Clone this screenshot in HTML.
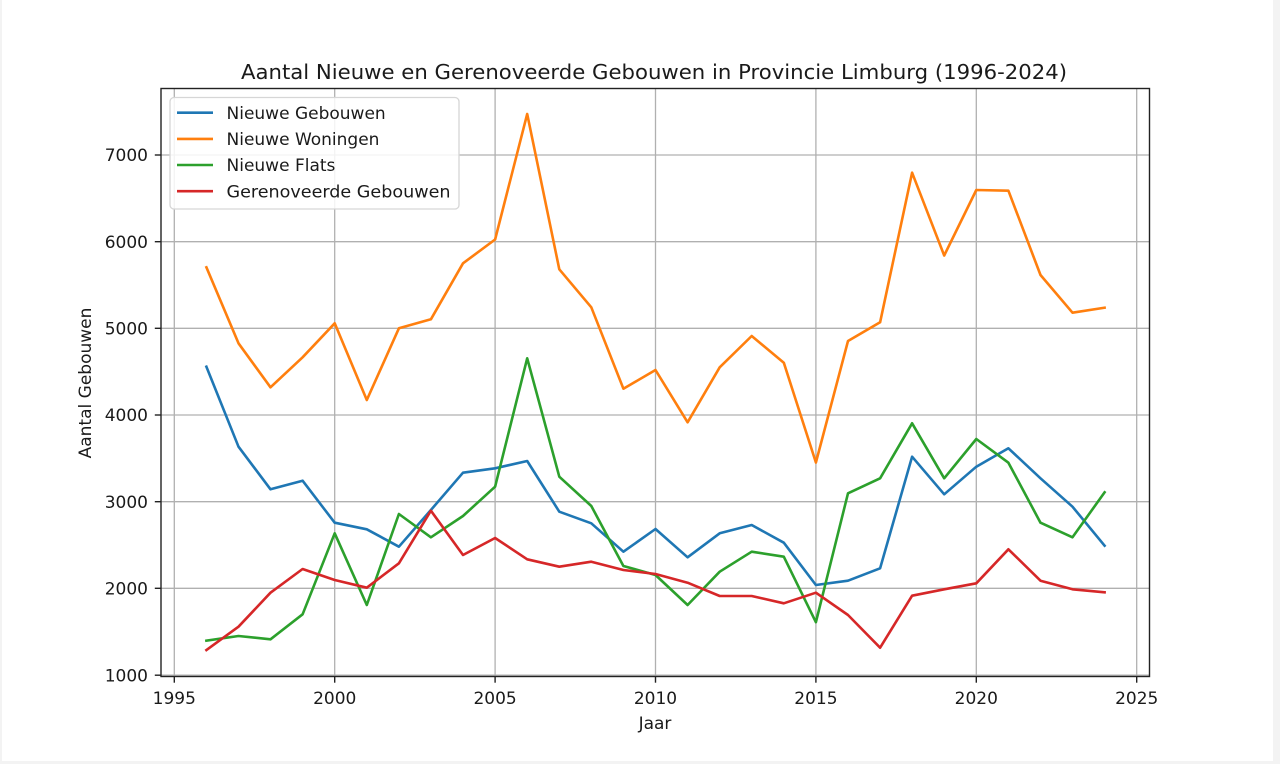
<!DOCTYPE html>
<html>
<head>
<meta charset="utf-8">
<style>
html,body{margin:0;padding:0;background:#f3f3f3;}
body{width:1280px;height:764px;overflow:hidden;position:relative;}
svg{position:absolute;left:0;top:0;}
text{font-family:"DejaVu Sans","Liberation Sans",sans-serif;fill:#1a1a1a;}
</style>
</head>
<body>
<svg width="1280" height="764" viewBox="0 0 1280 764" xmlns="http://www.w3.org/2000/svg">
  <rect x="2" y="0" width="1271" height="761" fill="#ffffff"/>
  <!-- grid -->
  <g stroke="#b0b0b0" stroke-width="1.3">
    <line x1="174.3" y1="88.5" x2="174.3" y2="676.5"/>
    <line x1="334.7" y1="88.5" x2="334.7" y2="676.5"/>
    <line x1="495.1" y1="88.5" x2="495.1" y2="676.5"/>
    <line x1="655.5" y1="88.5" x2="655.5" y2="676.5"/>
    <line x1="815.9" y1="88.5" x2="815.9" y2="676.5"/>
    <line x1="976.3" y1="88.5" x2="976.3" y2="676.5"/>
    <line x1="1136.7" y1="88.5" x2="1136.7" y2="676.5"/>
    <line x1="161" y1="675.2" x2="1149.5" y2="675.2"/>
    <line x1="161" y1="588.3" x2="1149.5" y2="588.3"/>
    <line x1="161" y1="501.7" x2="1149.5" y2="501.7"/>
    <line x1="161" y1="415" x2="1149.5" y2="415"/>
    <line x1="161" y1="328.3" x2="1149.5" y2="328.3"/>
    <line x1="161" y1="241.7" x2="1149.5" y2="241.7"/>
    <line x1="161" y1="155" x2="1149.5" y2="155"/>
  </g>
  <!-- series -->
  <g fill="none" stroke-width="2.6" stroke-linejoin="round" stroke-linecap="square">
    <polyline stroke="#1f77b4" points="206.4,366.7 238.5,446.7 270.5,489.3 302.6,480.7 334.7,522.7 366.8,529.3 398.9,546.7 430.9,510 463.0,472.7 495.1,468.3 527.2,461 559.3,511.7 591.3,523.3 623.4,551.7 655.5,529 687.6,557.3 719.7,533.3 751.7,525 783.8,542.7 815.9,585 848.0,580.7 880.1,568.3 912.1,456.7 944.2,494.3 976.3,466.7 1008.4,448.3 1040.5,478.3 1072.5,506.7 1104.6,545.7"/>
    <polyline stroke="#ff7f0e" points="206.4,267.3 238.5,343.3 270.5,387.3 302.6,357.3 334.7,323.3 366.8,400 398.9,328.3 430.9,319.3 463.0,263.3 495.1,239.5 527.2,114 559.3,269.3 591.3,307.3 623.4,388.7 655.5,370 687.6,422.3 719.7,367.3 751.7,336 783.8,362.7 815.9,462.5 848.0,341 880.1,322.3 912.1,172.7 944.2,255.5 976.3,190 1008.4,190.7 1040.5,275 1072.5,312.7 1104.6,307.7"/>
    <polyline stroke="#2ca02c" points="206.4,640.7 238.5,636 270.5,639.3 302.6,614.3 334.7,533.3 366.8,605 398.9,514 430.9,537.3 463.0,516 495.1,486.7 527.2,358.3 559.3,476.7 591.3,506 623.4,566 655.5,575 687.6,605 719.7,571.7 751.7,551.7 783.8,556.7 815.9,622.2 848.0,493.3 880.1,478.3 912.1,423.3 944.2,478.3 976.3,439 1008.4,462.7 1040.5,522.7 1072.5,537.3 1104.6,492.3"/>
    <polyline stroke="#d62728" points="206.4,650 238.5,626.7 270.5,592.7 302.6,569 334.7,580 366.8,587.7 398.9,563.3 430.9,510.7 463.0,555 495.1,538 527.2,559.3 559.3,566.7 591.3,561.7 623.4,570 655.5,574 687.6,582.7 719.7,596 751.7,596 783.8,603.3 815.9,592.7 848.0,615 880.1,647.7 912.1,595.7 944.2,589.3 976.3,583.3 1008.4,549.3 1040.5,580.7 1072.5,589.3 1104.6,592.3"/>
  </g>
  <!-- axes frame -->
  <rect x="161" y="88.5" width="988.5" height="588" fill="none" stroke="#222" stroke-width="1.4"/>
  <!-- ticks -->
  <g stroke="#222" stroke-width="1.4">
    <line x1="174.3" y1="676.5" x2="174.3" y2="682.7"/>
    <line x1="334.7" y1="676.5" x2="334.7" y2="682.7"/>
    <line x1="495.1" y1="676.5" x2="495.1" y2="682.7"/>
    <line x1="655.5" y1="676.5" x2="655.5" y2="682.7"/>
    <line x1="815.9" y1="676.5" x2="815.9" y2="682.7"/>
    <line x1="976.3" y1="676.5" x2="976.3" y2="682.7"/>
    <line x1="1136.7" y1="676.5" x2="1136.7" y2="682.7"/>
    <line x1="154.8" y1="675.2" x2="161" y2="675.2"/>
    <line x1="154.8" y1="588.3" x2="161" y2="588.3"/>
    <line x1="154.8" y1="501.7" x2="161" y2="501.7"/>
    <line x1="154.8" y1="415" x2="161" y2="415"/>
    <line x1="154.8" y1="328.3" x2="161" y2="328.3"/>
    <line x1="154.8" y1="241.7" x2="161" y2="241.7"/>
    <line x1="154.8" y1="155" x2="161" y2="155"/>
  </g>
  <!-- x tick labels -->
  <g font-size="17" text-anchor="middle">
    <text x="174.3" y="704">1995</text>
    <text x="334.7" y="704">2000</text>
    <text x="495.1" y="704">2005</text>
    <text x="655.5" y="704">2010</text>
    <text x="815.9" y="704">2015</text>
    <text x="976.3" y="704">2020</text>
    <text x="1136.7" y="704">2025</text>
  </g>
  <!-- y tick labels -->
  <g font-size="17" text-anchor="end">
    <text x="148" y="681.3">1000</text>
    <text x="148" y="594.4">2000</text>
    <text x="148" y="507.8">3000</text>
    <text x="148" y="421.1">4000</text>
    <text x="148" y="334.4">5000</text>
    <text x="148" y="247.8">6000</text>
    <text x="148" y="161.1">7000</text>
  </g>
  <!-- axis labels -->
  <text x="655" y="729" font-size="17" text-anchor="middle">Jaar</text>
  <text transform="translate(91,383) rotate(-90)" font-size="17" text-anchor="middle">Aantal Gebouwen</text>
  <!-- title -->
  <text x="654" y="79" font-size="20.5" text-anchor="middle" textLength="826" lengthAdjust="spacingAndGlyphs">Aantal Nieuwe en Gerenoveerde Gebouwen in Provincie Limburg (1996-2024)</text>
  <!-- legend -->
  <rect x="170" y="97.5" width="289" height="111.5" rx="4" ry="4" fill="#ffffff" fill-opacity="0.85" stroke="#d6d6d6" stroke-width="1.3"/>
  <g stroke-width="2.6">
    <line x1="177" y1="112.7" x2="213" y2="112.7" stroke="#1f77b4"/>
    <line x1="177" y1="138.9" x2="213" y2="138.9" stroke="#ff7f0e"/>
    <line x1="177" y1="165" x2="213" y2="165" stroke="#2ca02c"/>
    <line x1="177" y1="191.2" x2="213" y2="191.2" stroke="#d62728"/>
  </g>
  <g font-size="17">
    <text x="226.5" y="118.8">Nieuwe Gebouwen</text>
    <text x="226.5" y="145">Nieuwe Woningen</text>
    <text x="226.5" y="171.1">Nieuwe Flats</text>
    <text x="226.5" y="197.3" textLength="224" lengthAdjust="spacingAndGlyphs">Gerenoveerde Gebouwen</text>
  </g>
</svg>
</body>
</html>
